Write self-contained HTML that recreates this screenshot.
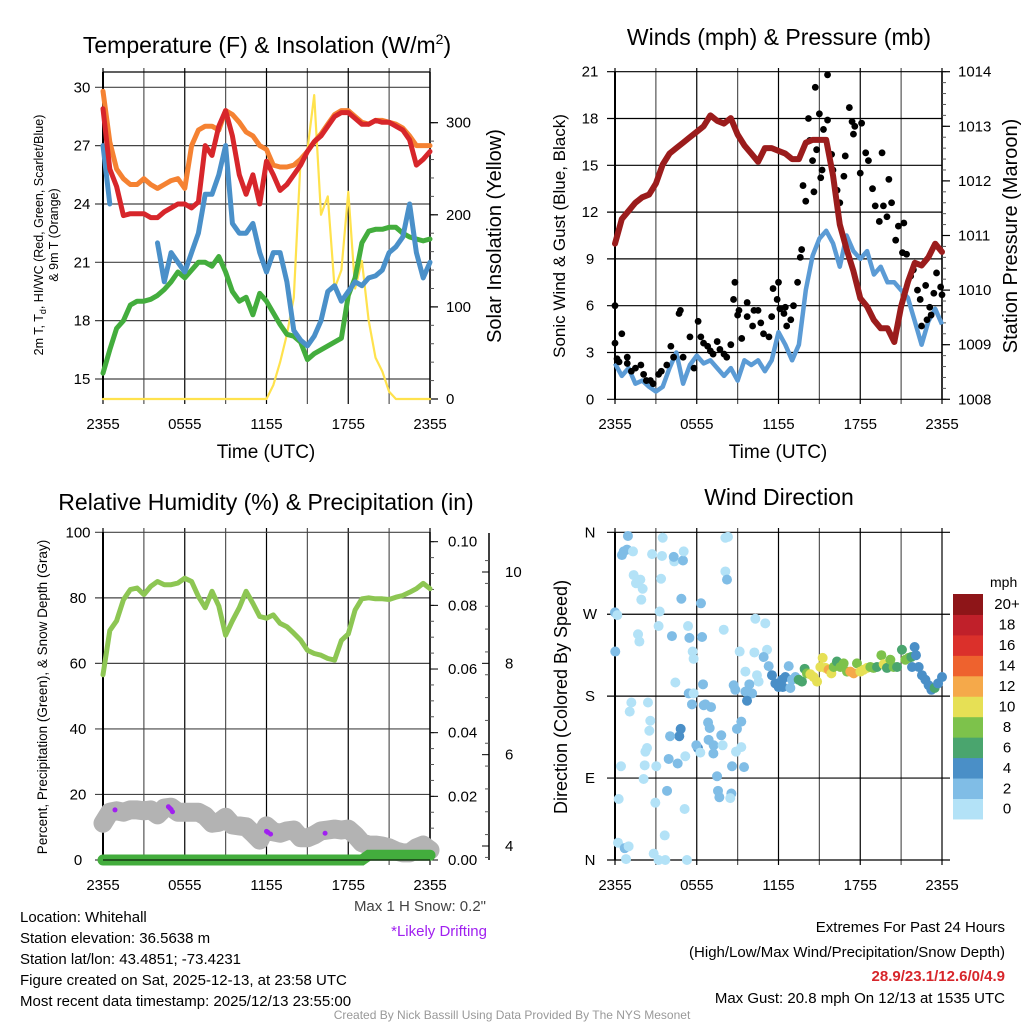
<!DOCTYPE html>
<html><head><meta charset="utf-8"><style>
html,body{margin:0;padding:0;background:#fff}
svg{display:block;font-family:"Liberation Sans",sans-serif}
</style></head><body>
<svg id="c" width="1024" height="1024" viewBox="0 0 1024 1024" xmlns="http://www.w3.org/2000/svg">
<g id="titles" font-size="23" text-anchor="middle" fill="#000">
<text x="267" y="53">Temperature (F) &amp; Insolation (W/m<tspan font-size="14" dy="-9">2</tspan><tspan dy="9">)</tspan></text>
<text x="779" y="45">Winds (mph) &amp; Pressure (mb)</text>
<text x="266" y="510">Relative Humidity (%) &amp; Precipitation (in)</text>
<text x="779" y="505">Wind Direction</text>
</g>
<g id="p1"></g>
<g id="p2"></g>
<g id="p3"></g>
<g id="p4"></g>
<g font-size="15" fill="#000">
<text x="20" y="922">Location: Whitehall</text>
<text x="20" y="943">Station elevation: 36.5638 m</text>
<text x="20" y="964">Station lat/lon: 43.4851; -73.4231</text>
<text x="20" y="985">Figure created on Sat, 2025-12-13, at 23:58 UTC</text>
<text x="20" y="1006">Most recent data timestamp: 2025/12/13 23:55:00</text>
</g>
<text x="486" y="911" font-size="15" fill="#444" text-anchor="end">Max 1 H Snow: 0.2"</text>
<text x="487" y="936" font-size="15" fill="#a020f0" text-anchor="end">*Likely Drifting</text>
<g font-size="15" text-anchor="end" fill="#000">
<text x="1005" y="932">Extremes For Past 24 Hours</text>
<text x="1005" y="957">(High/Low/Max Wind/Precipitation/Snow Depth)</text>
<text x="1005" y="981" fill="#d7262b" font-weight="bold">28.9/23.1/12.6/0/4.9</text>
<text x="1005" y="1003">Max Gust: 20.8 mph On 12/13 at 1535 UTC</text>
</g>
<text x="512" y="1019" font-size="12" fill="#999" text-anchor="middle">Created By Nick Bassill Using Data Provided By The NYS Mesonet</text>
</svg>
<script>
// ---------- data ----------
const hours = [];
for (let i = 0; i <= 48; i++) hours.push(i / 2);
const xTickLabels = ["2355","0555","1155","1755","2355"];
const tempTicks = [15,18,21,24,27,30];
const solarTicks = [0,100,200,300];
const windTicks = [0,3,6,9,12,15,18,21];
const presTicks = [1008,1009,1010,1011,1012,1013,1014];
const rhTicks = [0,20,40,60,80,100];
const precipTicks = [0,0.02,0.04,0.06,0.08,0.10];
const snowTicks = [4,6,8,10];
const dirTicks = ["N","E","S","W","N"];
const speedBinLabels = ["0","2","4","6","8","10","12","14","16","18","20+"];
const speedBinColors = ["#b3e2f7","#80bde6","#4a8fc7","#4aa56e","#7dc24b","#e6e055","#f5a94a","#ee622e","#db302b","#c0202a","#8e1518"];

const temp2m = [28.9,25.8,24.9,23.4,23.5,23.5,23.5,23.3,23.3,23.6,23.8,24.0,24.0,23.8,24.1,27.0,26.5,28.0,28.8,27.5,25.5,24.5,25.5,24.0,26.2,25.5,24.7,25.0,25.5,26.0,26.7,27.2,27.5,28.0,28.5,28.7,28.7,28.4,28.1,28.1,28.3,28.2,28.2,28.0,27.8,27.3,26.0,26.3,26.7];
const temp9m = [29.8,27.2,25.8,25.3,25.0,25.0,25.3,25.0,24.8,25.0,25.2,25.3,24.8,27.0,27.8,28.0,28.0,27.8,28.8,28.6,28.2,27.7,27.5,27.0,26.8,26.0,25.9,25.9,26.0,26.3,26.7,27.2,27.6,28.1,28.6,28.8,28.8,28.5,28.2,28.1,28.3,28.3,28.2,28.1,27.9,27.5,27.0,27.0,27.0];
const dewpoint = [15.3,16.5,17.6,18.0,18.8,19.0,19.0,19.1,19.3,19.6,20.0,20.5,20.2,20.6,21.0,21.0,20.8,21.3,20.5,19.5,19.0,19.2,18.3,19.4,19.0,18.4,17.8,17.3,17.2,16.9,16.0,16.3,16.5,16.7,16.9,17.1,19.3,20.2,22.0,22.6,22.7,22.7,22.8,22.8,22.5,22.3,22.2,22.1,22.2];
const windChill = [27,24,null,null,null,null,null,null,22.0,20.0,21.5,21.0,20.5,21.5,22.5,24.5,24.5,25.5,27.0,23.0,22.5,22.5,23.0,21.5,20.5,21.5,21.5,20.0,17.5,17.0,16.7,17.2,18.0,19.5,19.8,19.0,19.5,20.0,19.8,20.2,20.3,20.6,21.5,21.8,22.3,24.0,21.5,20.2,21.0];
const solar = [0,0,0,0,0,0,0,0,0,0,0,0,0,0,0,0,0,0,0,0,0,0,0,0,0,15,40,70,110,260,270,330,200,220,120,140,225,120,150,85,45,30,8,0,0,0,0,0,0];

const windSpeed = [2.3,1.5,2.0,1.0,1.2,0.8,0.5,0.8,2.0,3.0,1.0,2.2,2.8,2.3,2.5,2.0,1.5,2.0,1.2,2.5,2.2,2.5,1.8,2.5,4.3,3.5,2.5,3.5,7.0,9.2,10.3,10.8,10.0,8.5,10.5,9.5,9.0,9.5,8.0,8.5,7.5,7.5,7.0,6.5,5.0,3.5,5.0,5.8,4.8];
const pressure = [1010.85,1011.3,1011.45,1011.6,1011.7,1011.75,1011.95,1012.3,1012.5,1012.6,1012.7,1012.8,1012.9,1013.0,1013.2,1013.1,1013.05,1013.15,1012.85,1012.65,1012.5,1012.35,1012.6,1012.6,1012.55,1012.5,1012.4,1012.4,1012.7,1012.75,1012.75,1012.75,1012.1,1011.2,1010.75,1010.35,1009.85,1009.7,1009.45,1009.3,1009.3,1009.05,1009.7,1010.15,1010.5,1010.45,1010.6,1010.85,1010.7];
const gustTimes = [0,0,0.15,0.3,0.5,0.9,0.9,1.2,1.5,1.9,2.1,2.3,2.6,2.8,3.2,3.4,3.8,4.1,4.3,4.7,4.8,5.0,5.5,5.8,6.1,6.3,6.5,6.8,7.0,7.2,7.5,7.7,8.0,8.2,8.5,8.7,8.8,9.0,9.1,9.3,9.7,9.7,10.1,10.2,10.5,10.7,10.9,11.3,11.5,11.6,11.9,12.0,12.1,12.4,12.5,12.6,12.9,13.1,13.4,13.6,13.7,13.8,14.0,14.2,14.3,14.5,14.6,14.7,14.8,15.0,15.1,15.2,15.3,15.6,15.6,15.9,16.0,16.3,16.5,16.8,16.9,17.2,17.4,17.5,17.6,18.0,18.1,18.4,18.6,18.9,19.1,19.4,19.6,19.7,19.96,20.1,20.3,20.6,20.8,21.1,21.2,21.4,21.7,21.9,22.2,22.4,22.5,22.8,22.9,23.1,23.2,23.4,23.6,23.9,24];
const gustValues = [6.0,3.6,2.6,2.4,4.2,2.7,2.3,1.8,2.0,2.2,1.6,1.2,1.2,1.0,1.6,1.8,2.2,3.4,2.7,5.5,5.7,2.7,4.0,2.0,5.0,4.0,3.6,3.4,3.1,2.9,3.7,3.2,2.9,2.7,3.5,6.4,7.5,5.4,5.7,3.9,6.2,5.3,4.7,5.7,5.7,4.9,4.2,4.0,5.3,7.1,6.4,7.5,5.8,5.5,5.9,4.7,5.1,6.0,7.5,9.1,9.6,13.7,12.7,18.0,16.6,15.3,13.3,20.0,16.0,18.3,14.2,14.7,17.3,17.9,20.8,15.7,14.7,13.4,12.6,14.3,15.6,18.7,17.8,17.0,17.5,14.5,17.7,15.8,15.3,13.5,12.4,11.4,15.8,12.4,11.7,14.1,12.6,10.2,11.1,9.4,11.3,9.3,7.9,8.3,7.0,6.4,4.7,7.3,5.1,5.9,5.4,6.8,8.1,7.2,6.7];

const rh = [56.5,70,73,79.4,82.5,83,81,83.5,85,84,84,84.5,86,85,80.4,77,82,77.5,68.6,73,77,82,78.3,74.3,73.8,74.8,72.2,71.2,69.2,67.1,64,63,62.5,61.5,61,67,69,76.3,79.7,80,79.7,79.7,79.5,80.2,80.7,81.7,82.8,84.4,82.8];
const snowDepth = [4.50,4.74,4.77,4.74,4.79,4.79,4.77,4.79,4.68,4.83,4.85,4.74,4.74,4.74,4.74,4.66,4.50,4.52,4.63,4.46,4.44,4.42,4.28,4.13,4.44,4.31,4.28,4.33,4.35,4.18,4.18,4.24,4.33,4.35,4.37,4.35,4.37,4.24,4.07,4.02,4.02,4.00,3.96,3.89,3.85,3.85,3.96,4.02,3.91];
const precip = [0,0,0,0,0,0,0,0,0,0,0,0,0,0,0,0,0,0,0,0,0,0,0,0,0,0,0,0,0,0,0,0,0,0,0,0,0,0,0,0.0015,0.0015,0.0015,0.0015,0.0015,0.0015,0.0015,0.0015,0.0015,0.0015];
const driftTimes = [0.88,4.8,4.9,5.0,5.1,12.0,12.1,12.3,16.3];
const driftDepths = [4.79,4.86,4.83,4.80,4.75,4.32,4.30,4.26,4.28];

const dirTimes = [0.95,0.64,0.51,0.88,1.32,2.72,3.50,3.45,4.35,4.31,4.99,5.04,8.10,8.29,8.10,8.22,1.37,1.54,1.86,2.03,1.93,3.38,4.87,6.31,0,0.17,3.28,3.20,5.36,7.98,10.30,11.03,1.69,1.79,4.18,5.46,6.39,0.02,9.15,10.23,5.70,5.77,11.16,10.91,11.28,9.57,10.42,10.54,4.43,6.46,8.71,8.83,9.86,5.41,5.77,9.57,10.06,9.69,1.20,2.42,1.08,5.65,6.63,7.05,6.51,2.59,2.52,4.82,4.72,4.04,6.83,6.95,7.80,9.27,8.95,6.87,7.24,6.09,5.97,6.26,7.22,7.90,3.94,4.60,5.16,2.35,2.23,2.18,3.03,0.44,8.59,9.47,7.49,2.10,3.82,7.56,7.66,8.54,8.46,0.27,2.96,5.11,3.65,0.22,0.71,1.00,2.84,3.20,0.81,3.69,5.28,8.88,9.27,
11.52,11.77,12.01,12.26,12.50,12.75,12.99,13.24,13.48,13.72,13.92,14.09,14.34,14.58,14.83,15.07,15.24,15.44,15.68,15.88,16.05,16.29,16.54,16.78,17.03,17.27,17.52,17.76,18.01,18.25,18.50,18.74,18.98,19.23,19.55,19.72,19.96,20.21,20.45,20.70,21.06,21.31,21.55,21.75,21.99,22.09,22.29,22.53,22.78,23.02,23.22,23.46,23.71,24.00,12.31,12.87,21.80];
const dirDegrees = [356,339,335,341,339,336,354,334,328,333,329,339,354,355,317,308,313,304,308,298,286,309,287,282,272,269,273,257,257,253,265,260,248,240,246,244,245,229,229,228,229,221,231,223,213,207,203,196,195,193,192,187,193,183,183,185,183,175,173,173,163,171,171,168,170,153,142,144,136,136,151,145,137,152,144,132,126,123,126,118,117,126,111,106,114,123,119,104,103,103,103,102,92,89,76,76,69,73,68,67,63,56,27,19,13,15,7,0,1,0,0,119,124,
203,194,190,198,201,213,198,201,198,196,210,205,204,201,196,212,222,211,209,205,212,218,212,216,207,207,205,216,207,209,211,212,211,212,225,215,211,220,212,212,231,220,222,223,234,225,212,203,198,192,187,189,194,201,190,189,212];
const dirSpeeds = [3,3,3,3,1,1,1,1,1,3,3,1,1,1,1,3,1,1,1,1,1,1,3,3,3,1,1,1,1,1,1,1,1,1,3,3,3,3,1,1,1,1,1,3,3,1,1,1,1,3,3,3,3,3,1,3,3,5,1,1,1,3,3,3,3,1,1,5,5,3,3,3,3,3,3,3,3,5,3,1,3,1,3,3,1,1,1,1,1,1,3,3,3,1,3,3,3,3,1,1,1,1,1,1,3,1,1,1,1,1,1,1,1,
5,5,5,5,5,3,3,3,7,7,7,9,11,11,11,11,11,11,13,11,9,7,9,9,9,13,13,9,11,11,11,9,9,7,9,11,7,9,9,7,7,9,9,7,5,5,5,5,5,5,5,7,5,5,5,3,5];

// ---------- helpers ----------
const NS = "http://www.w3.org/2000/svg";
function mk(parent, tag, attrs, text) {
  const e = document.createElementNS(NS, tag);
  for (const k in attrs) e.setAttribute(k, attrs[k]);
  if (text !== undefined) e.textContent = text;
  parent.appendChild(e);
  return e;
}
const X0 = 103, X1 = 430;
function linScale(d0, d1, r0, r1) { return v => r0 + (v - d0) * (r1 - r0) / (d1 - d0); }
function pathFrom(ts, vs, xs, ys) {
  let d = "", pen = false;
  for (let i = 0; i < ts.length; i++) {
    if (vs[i] === null) { pen = false; continue; }
    d += (pen ? "L" : "M") + xs(ts[i]).toFixed(1) + "," + ys(vs[i]).toFixed(1);
    pen = true;
  }
  return d;
}
function frame(g, off, top, bottom) {
  const xs = linScale(0, 24, X0 + off, X1 + off);
  for (let h = 0; h <= 24; h += 3) {
    const l = mk(g, "line", {x1: xs(h), x2: xs(h), y1: top - 4, y2: bottom + 5, stroke: h % 6 === 0 ? "#000" : "#555", "stroke-width": 1.2});
    
    
  }
  xTickLabels.forEach((lab, i) => {
    const t = mk(g, "text", {x: xs(i * 6), y: bottom + 30, "font-size": 15, "text-anchor": "middle"}, lab);
    
    
  });
  return xs;
}
function hGrid(g, off, ticks, ys, labelX, anchor, fmt, dark) {
  ticks.forEach(v => {
    const y = ys(v);
    const l = mk(g, "line", {x1: X0 + off - 8, x2: X1 + off, y1: y, y2: y, stroke: dark ? "#000" : "#444", "stroke-width": 1.2});
    
    
    const t = mk(g, "text", {x: labelX, y: y + 5, "font-size": 15, "text-anchor": anchor}, fmt ? fmt(v) : v);
    
    
  });
}
function rightTicks(g, xr, ticks, ys, fmt, minorStep) {
  mk(g, "line", {x1: xr, x2: xr, y1: 72, y2: 399, stroke: "#000", "stroke-width": 1.5});
  const lo = ticks[0], hi = ticks[ticks.length - 1];
  for (let v = lo; v <= hi + 1e-9; v += minorStep) mk(g, "line", {x1: xr, x2: xr + 4, y1: ys(v), y2: ys(v), stroke: "#555"});
  ticks.forEach(v => {
    mk(g, "line", {x1: xr, x2: xr + 8, y1: ys(v), y2: ys(v), stroke: "#000", "stroke-width": 1.2});
    const t = mk(g, "text", {x: xr + 16, y: ys(v) + 5, "font-size": 15}, fmt ? fmt(v) : v);
    
    
  });
}
function rotText(g, x, y, size, txt, name) {
  const t = mk(g, "text", {x: 0, y: 0, "font-size": size, "text-anchor": "middle", transform: `translate(${x},${y}) rotate(-90)`}, txt);
  
  
  return t;
}

// ---------- panel 1 ----------
(function () {
  const g = document.getElementById("p1");
  const xs = frame(g, 0, 72, 399);
  const ys = linScale(15, 30, 379, 87.3);
  const ysR = linScale(0, 300, 399, 122.7);
  hGrid(g, 0, tempTicks, ys, 82, "middle");
  mk(g, "line", {x1: X0, x2: X1, y1: 72, y2: 72, stroke: "#000", "stroke-width": 1.2});
  mk(g, "line", {x1: X0, x2: X0, y1: 72, y2: 399, stroke: "#000", "stroke-width": 2});
  rightTicks(g, X1, solarTicks, ysR, null, 20);
  const series = [
    [solar, ysR, "#ffe24d", 2.2, "solar-insolation-line"],
    [dewpoint, ys, "#43ad3d", 5, "dewpoint-line"],
    [windChill, ys, "#4a90c9", 5, "wind-chill-line"],
    [temp9m, ys, "#f58232", 5, "temp-9m-line"],
    [temp2m, ys, "#d7262b", 5, "temp-2m-line"]
  ];
  series.forEach(s => {
    const p = mk(g, "path", {d: pathFrom(hours, s[0], xs, s[1]), fill: "none", stroke: s[2], "stroke-width": s[3], "stroke-linejoin": "round", "stroke-linecap": "round"});
    
    
  });
  const t = mk(g, "text", {x: 266, y: 458, "font-size": 19, "text-anchor": "middle"}, "Time (UTC)");
  
  
  const a = mk(g, "text", {x: 0, y: 0, "font-size": 12.5, "text-anchor": "middle", transform: "translate(43,235) rotate(-90)"});
  
  
  a.innerHTML = '2m T, T<tspan font-size="9" dy="3">d</tspan><tspan dy="-3">, HI/WC (Red, Green, Scarlet/Blue)</tspan>';
  rotText(g, 58, 235, 12.5, "& 9m T (Orange)", "y-axis-title-line2");
  rotText(g, 501, 236, 20, "Solar Insolation (Yellow)", "right-axis-title");
})();

// ---------- panel 2 ----------
(function () {
  const g = document.getElementById("p2");
  const off = 512;
  const xs = frame(g, off, 72, 399);
  const ys = linScale(0, 21, 399.3, 71.7);
  const ysR = linScale(1008, 1014, 399.3, 71.7);
  hGrid(g, off, windTicks, ys, 590, "middle", null, true);
  mk(g, "line", {x1: X0 + off, x2: X0 + off, y1: 72, y2: 399, stroke: "#000", "stroke-width": 2});
  rightTicks(g, X1 + off, presTicks, ysR, null, 0.2);
  const w = mk(g, "path", {d: pathFrom(hours, windSpeed, xs, ys), fill: "none", stroke: "#5b9bd5", "stroke-width": 4.5, "stroke-linejoin": "round"});
  
  
  const gg = mk(g, "g", {});
  
  
  gustTimes.forEach((t, i) => {
    const c = mk(gg, "circle", {cx: xs(t), cy: ys(gustValues[i]), r: 3.4, fill: "#000"});
    
    
  });
  const p = mk(g, "path", {d: pathFrom(hours, pressure, xs, ysR), fill: "none", stroke: "#9b1c1c", "stroke-width": 6, "stroke-linejoin": "round", "stroke-linecap": "round"});
  
  
  const t = mk(g, "text", {x: 778, y: 458, "font-size": 19, "text-anchor": "middle"}, "Time (UTC)");
  
  
  rotText(g, 565, 236, 17, "Sonic Wind & Gust (Blue, Black)", "y-axis-title");
  rotText(g, 1017, 236, 20, "Station Pressure (Maroon)", "right-axis-title");
})();

// ---------- panel 3 ----------
(function () {
  const g = document.getElementById("p3");
  const xs = frame(g, 0, 532, 860);
  const ys = linScale(0, 100, 860, 532.3);
  const ysP = linScale(0, 0.10, 860, 541.7);
  const ysS = linScale(4, 10, 846, 572);
  hGrid(g, 0, rhTicks, ys, 78, "middle");
  mk(g, "line", {x1: X0, x2: X0, y1: 532, y2: 860, stroke: "#000", "stroke-width": 2});
  mk(g, "line", {x1: X1, x2: X1, y1: 532, y2: 860, stroke: "#000", "stroke-width": 1.5});
  for (let v = 0; v <= 0.1001; v += 0.005) mk(g, "line", {x1: X1, x2: X1 + 4, y1: ysP(v), y2: ysP(v), stroke: "#555"});
  precipTicks.forEach(v => {
    mk(g, "line", {x1: X1, x2: X1 + 8, y1: ysP(v), y2: ysP(v), stroke: "#000"});
    const t = mk(g, "text", {x: 448, y: ysP(v) + 5, "font-size": 15}, v.toFixed(2));
    
    
  });
  mk(g, "line", {x1: 489, x2: 489, y1: 533, y2: 860, stroke: "#000", "stroke-width": 1.5});
  for (let v = 3.75; v <= 10.6; v += 0.5) mk(g, "line", {x1: 485, x2: 489, y1: ysS(v), y2: ysS(v), stroke: "#555"});
  snowTicks.forEach(v => {
    mk(g, "line", {x1: 482, x2: 489, y1: ysS(v), y2: ysS(v), stroke: "#000"});
    const t = mk(g, "text", {x: 505, y: ysS(v) + 5, "font-size": 15}, v);
    
    
  });
  const s = mk(g, "path", {d: pathFrom(hours, snowDepth, xs, ysS), fill: "none", stroke: "#b3b3b3", "stroke-width": 19, "stroke-linejoin": "round", "stroke-linecap": "round"});
  
  
  driftTimes.forEach((t, i) => {
    const c = mk(g, "circle", {cx: xs(t), cy: ysS(driftDepths[i]), r: 2.5, fill: "#a020f0"});
    
    
  });
  const p = mk(g, "path", {d: pathFrom(hours, precip, xs, ysP), fill: "none", stroke: "#43ad3d", "stroke-width": 11, "stroke-linecap": "round"});
  
  
  mk(g, "line", {x1: X0, x2: X1, y1: 860, y2: 860, stroke: "#000", "stroke-width": 1});
  const r = mk(g, "path", {d: pathFrom(hours, rh, xs, ys), fill: "none", stroke: "#8dc653", "stroke-width": 5, "stroke-linejoin": "round", "stroke-linecap": "round"});
  
  
  rotText(g, 47, 697, 13.5, "Percent, Precipitation (Green), & Snow Depth (Gray)", "y-axis-title");
})();

// ---------- panel 4 ----------
(function () {
  const g = document.getElementById("p4");
  const off = 512;
  const xs = frame(g, off, 532, 860);
  const ys = linScale(0, 360, 860, 532.3);
  dirTicks.forEach((lab, i) => {
    const y = ys(i * 90);
    const l = mk(g, "line", {x1: X0 + off - 8, x2: X1 + off + 8, y1: y, y2: y, stroke: "#000", "stroke-width": 1.2});
    
    
    const t = mk(g, "text", {x: 590, y: y + 5, "font-size": 15, "text-anchor": "middle"}, lab);
    
    
  });
  mk(g, "line", {x1: X0 + off, x2: X0 + off, y1: 532, y2: 860, stroke: "#000", "stroke-width": 2});
  const binColor = sp => speedBinColors[Math.min(10, Math.floor(sp / 2))];
  dirTimes.forEach((t, i) => {
    const c = mk(g, "circle", {cx: xs(t), cy: ys(dirDegrees[i]), r: 5, fill: binColor(dirSpeeds[i])});
    
    
  });
  rotText(g, 567, 697, 18, "Direction (Colored By Speed)", "y-axis-title");
  const cb = mk(g, "g", {});
  
  
  const top = 594, bin = 20.45;
  speedBinLabels.forEach((lab, i) => {
    const yy = top + (10 - i) * bin;
    const r = mk(cb, "rect", {x: 953, y: yy, width: 30, height: bin + 0.5, fill: speedBinColors[i]});
    
    
    const t = mk(cb, "text", {x: 1007, y: yy + bin / 2 + 5, "font-size": 15, "text-anchor": "middle"}, lab);
    
    
  });
  const m = mk(cb, "text", {x: 990, y: 587, "font-size": 14}, "mph");
  
  
})();
</script>
</body></html>
